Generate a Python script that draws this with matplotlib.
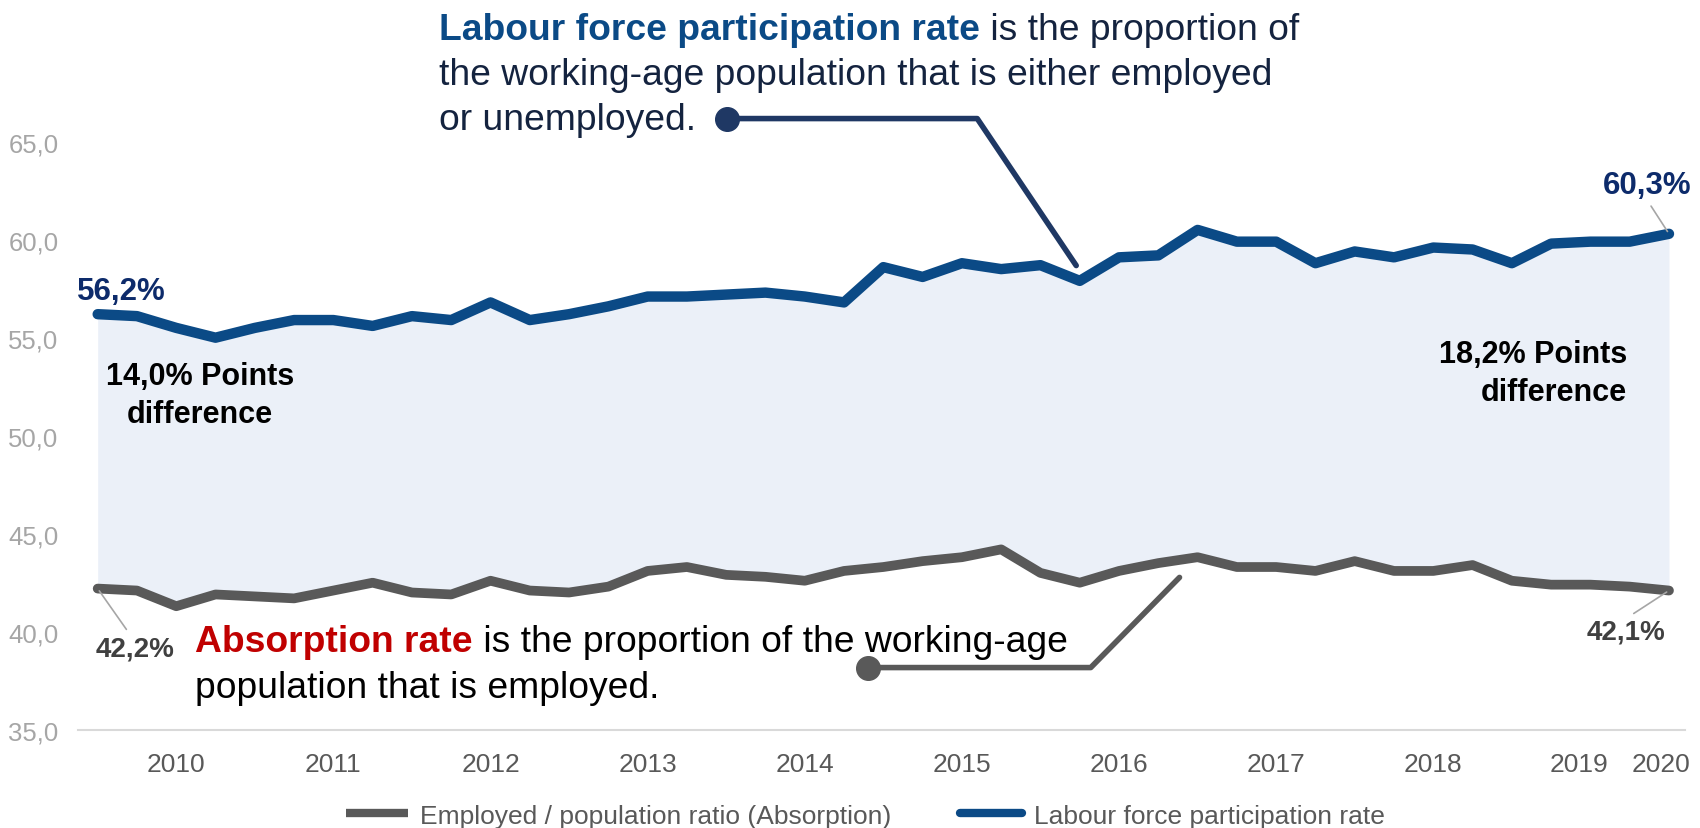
import matplotlib
matplotlib.use("Agg")
import matplotlib.pyplot as plt
from matplotlib.lines import Line2D

plt.rcParams['font.family'] = ['Liberation Sans', 'DejaVu Sans']

# quarterly values, 2010 Q1 .. 2020 Q1
participation = [56.2, 56.1, 55.5, 55.0, 55.5, 55.9, 55.9, 55.6, 56.1, 55.9,
                 56.8, 55.9, 56.2, 56.6, 57.1, 57.1, 57.2, 57.3, 57.1, 56.8,
                 58.6, 58.1, 58.8, 58.5, 58.7, 57.9, 59.1, 59.2, 60.5, 59.9,
                 59.9, 58.8, 59.4, 59.1, 59.6, 59.5, 58.8, 59.8, 59.9, 59.9,
                 60.3]
absorption = [42.2, 42.1, 41.3, 41.9, 41.8, 41.7, 42.1, 42.5, 42.0, 41.9,
              42.6, 42.1, 42.0, 42.3, 43.1, 43.3, 42.9, 42.8, 42.6, 43.1,
              43.3, 43.6, 43.8, 44.2, 43.0, 42.5, 43.1, 43.5, 43.8, 43.3,
              43.3, 43.1, 43.6, 43.1, 43.1, 43.4, 42.6, 42.4, 42.4, 42.3,
              42.1]
quarters = list(range(len(participation)))
years = ['2010', '2011', '2012', '2013', '2014', '2015', '2016', '2017',
         '2018', '2019', '2020']
year_pos = [2, 6, 10, 14, 18, 22, 26, 30, 34, 37.7, 39.8]
y_ticks = [35, 40, 45, 50, 55, 60, 65]

BLUE = '#0B4A86'
NAVY = '#0D2B6B'
GRAY = '#595959'

fig = plt.figure(figsize=(17, 8.29), dpi=100)
ax = fig.add_axes([0.04591, 0.11858, 0.94509, 0.70929])

ax.fill_between(quarters, absorption, participation, color='#EBF0F8', lw=0)
ax.plot(quarters, absorption, color=GRAY, lw=7, solid_capstyle='round',
        solid_joinstyle='round', label='Employed / population ratio (Absorption)')
ax.plot(quarters, participation, color=BLUE, lw=7.5, solid_capstyle='round',
        solid_joinstyle='round', label='Labour force participation rate')

ax.set_xlim(-0.5, 40.4)
ax.set_ylim(35, 65)
ax.set_xticks(year_pos)
ax.set_xticklabels(years)
ax.set_yticks(y_ticks)
ax.set_yticklabels([f"{v:.1f}".replace('.', ',') for v in y_ticks])
ax.tick_params(axis='x', length=0, pad=16, labelsize=19, labelcolor=GRAY)
ax.tick_params(axis='y', length=0, pad=14, labelsize=18.5, labelcolor='#A6A6A6')
for s in ['top', 'right', 'left']:
    ax.spines[s].set_visible(False)
ax.spines['bottom'].set_color('#D9D9D9')
ax.spines['bottom'].set_linewidth(1.5)

# end point labels
lead = dict(arrowstyle='-', color='#A6A6A6', lw=1.2, shrinkA=3, shrinkB=2)
ax.annotate(f"{participation[0]:.1f}%".replace('.', ','), xy=(0, participation[0]),
            xytext=(24, 23), textcoords='offset pixels', ha='center', va='center',
            fontsize=22.5, fontweight='bold', color=NAVY)
ax.annotate(f"{participation[-1]:.1f}%".replace('.', ','), xy=(40, participation[-1]),
            xytext=(-22, 49), textcoords='offset pixels', ha='center', va='center',
            fontsize=22.5, fontweight='bold', color=NAVY,
            arrowprops=dict(lead, relpos=(0.5, 0)))
ax.annotate(f"{absorption[0]:.1f}%".replace('.', ','), xy=(0, absorption[0]),
            xytext=(37, -60), textcoords='offset pixels', ha='center', va='center',
            fontsize=20, fontweight='bold', color='#404040',
            arrowprops=dict(lead, relpos=(0.45, 1)))
ax.annotate(f"{absorption[-1]:.1f}%".replace('.', ','), xy=(40, absorption[-1]),
            xytext=(-43, -41), textcoords='offset pixels', ha='center', va='center',
            fontsize=20, fontweight='bold', color='#404040',
            arrowprops=dict(lead, relpos=(0.5, 1)))

# gap labels
ax.text(2.6, 52.1, "14,0% Points\ndifference", ha='center', va='center',
        fontsize=22, fontweight='bold', color='black', linespacing=1.35)
ax.text(38.94, 53.2, "18,2% Points\ndifference", ha='right', va='center',
        fontsize=22, fontweight='bold', color='black', linespacing=1.35,
        multialignment='right')

# definition of participation rate
t1 = ax.text(8.7, 70.72, "Labour force participation rate", ha='left', va='center',
             fontsize=26.8, fontweight='bold', color=BLUE)
ax.annotate(" is the proportion of", xy=(1, 0), xycoords=t1, ha='left',
            va='bottom', fontsize=26.8, color='#14233F')
ax.text(8.7, 68.43, "the working-age population that is either employed",
        ha='left', va='center', fontsize=26.8, color='#14233F')
ax.text(8.7, 66.12, "or unemployed.", ha='left', va='center', fontsize=26.8,
        color='#14233F')
ax.plot([16.03, 22.39, 24.91], [66.18, 66.18, 58.68], color='#1F3864', lw=4,
        solid_capstyle='round', clip_on=False)
ax.plot([16.03], [66.18], 'o', color='#1F3864', ms=17, clip_on=False)

# definition of absorption rate
t2 = ax.text(2.48, 39.5, "Absorption rate", ha='left', va='center',
             fontsize=26.8, fontweight='bold', color='#C00000')
ax.annotate(" is the proportion of the working-age", xy=(1, 0), xycoords=t2,
            ha='left', va='bottom', fontsize=26.8, color='black')
ax.text(2.48, 37.15, "population that is employed.", ha='left', va='center',
        fontsize=26.8, color='black')
ax.plot([19.6, 25.28, 27.54], [38.17, 38.17, 42.77], color=GRAY, lw=4,
        solid_capstyle='round', clip_on=False)
ax.plot([19.6], [38.17], 'o', color=GRAY, ms=17, clip_on=False)

handles = [Line2D([], [], color=GRAY, lw=6, solid_capstyle='butt'),
           Line2D([], [], color=BLUE, lw=6, solid_capstyle='round')]
fig.legend(handles, ['Employed / population ratio (Absorption)',
                     'Labour force participation rate'],
           loc='center', bbox_to_anchor=(0.509, 0.015), ncol=2, frameon=False,
           fontsize=19, labelcolor=GRAY, handlelength=2.35, handletextpad=0.45,
           columnspacing=2.6, borderpad=0.1)

fig.savefig("out.png", dpi=100)
